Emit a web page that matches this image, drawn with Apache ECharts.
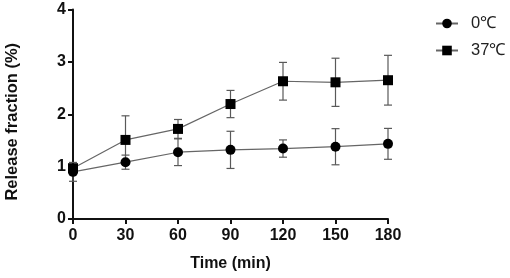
<!DOCTYPE html>
<html><head><meta charset="utf-8">
<script src="https://cdn.jsdelivr.net/npm/echarts@6/dist/echarts.min.js"></script>
<style>html,body{margin:0;padding:0;background:#fff}#c{width:510px;height:278px}</style>
</head><body><div id="c"></div>
<script>
var times = [0, 30, 60, 90, 120, 150, 180];
var cold = [0.9, 1.085, 1.275, 1.32, 1.345, 1.38, 1.435];
var coldErr = [0.18, 0.135, 0.255, 0.355, 0.165, 0.345, 0.295];
var warm = [0.97, 1.51, 1.72, 2.195, 2.63, 2.61, 2.65];
var warmErr = [0.04, 0.46, 0.18, 0.26, 0.36, 0.46, 0.475];
var names = ['0\u2103', '37\u2103'];

function pairs(v){ return times.map(function(t,i){return [t, v[i]];}); }
function errData(v,e){ return times.map(function(t,i){return [t, v[i]-e[i], v[i]+e[i]];}); }
function errSeries(v,e){
  return {
    type:'custom', silent:true, z:1,
    data: errData(v,e),
    renderItem:function(params, api){
      var x=api.value(0), lo=api.coord([x, api.value(1)]), hi=api.coord([x, api.value(2)]);
      var w=4;
      var st={stroke:'#595959', lineWidth:1.2};
      return {type:'group', children:[
        {type:'line', shape:{x1:lo[0],y1:lo[1],x2:hi[0],y2:hi[1]}, style:st},
        {type:'line', shape:{x1:lo[0]-w,y1:lo[1],x2:lo[0]+w,y2:lo[1]}, style:st},
        {type:'line', shape:{x1:hi[0]-w,y1:hi[1],x2:hi[0]+w,y2:hi[1]}, style:st}
      ]};
    }
  };
}
var font = 'Liberation Sans, Arial, sans-serif';
var chart = echarts.init(document.getElementById('c'));
chart.setOption({
  animation:false,
  grid:{left:73, right:122, top:9.5, bottom:59, containLabel:false, outerBoundsMode:'none'},
  legend:{
    left:430, top:10, orient:'vertical', itemGap:10, itemWidth:22, itemHeight:12,
    textStyle:{fontFamily:font, fontSize:16.5, color:'#222', padding:[0,0,0,8]},
    data:[names[0], names[1]]
  },
  xAxis:{
    type:'value', min:0, max:180, interval:30,
    name:'Time (min)', nameLocation:'middle', nameGap:37,
    nameTextStyle:{fontFamily:font, fontSize:16, fontWeight:'bold', color:'#111'},
    axisLine:{lineStyle:{color:'#111', width:2}},
    axisTick:{length:5, lineStyle:{color:'#111', width:2}},
    axisLabel:{fontFamily:font, fontSize:16, fontWeight:'bold', color:'#111', margin:9},
    splitLine:{show:false}
  },
  yAxis:{
    type:'value', min:0, max:4, interval:1,
    name:'Release fraction (%)', nameLocation:'middle', nameGap:52,
    nameTextStyle:{fontFamily:font, fontSize:16.5, fontWeight:'bold', color:'#111', padding:[0,15,0,0]},
    axisLine:{show:true, lineStyle:{color:'#111', width:2}},
    axisTick:{show:true, length:5, lineStyle:{color:'#111', width:2}},
    axisLabel:{fontFamily:font, fontSize:16, fontWeight:'bold', color:'#111', margin:7},
    splitLine:{show:false}
  },
  series:[
    errSeries(cold, coldErr),
    errSeries(warm, warmErr),
    {name:names[0], type:'line', data:pairs(cold), symbol:'circle', symbolSize:10, z:3,
     itemStyle:{color:'#000'}, lineStyle:{color:'#666', width:1.2}},
    {name:names[1], type:'line', data:pairs(warm), symbol:'rect', symbolSize:10, z:3,
     itemStyle:{color:'#000'}, lineStyle:{color:'#666', width:1.2}}
  ]
});
</script></body></html>
